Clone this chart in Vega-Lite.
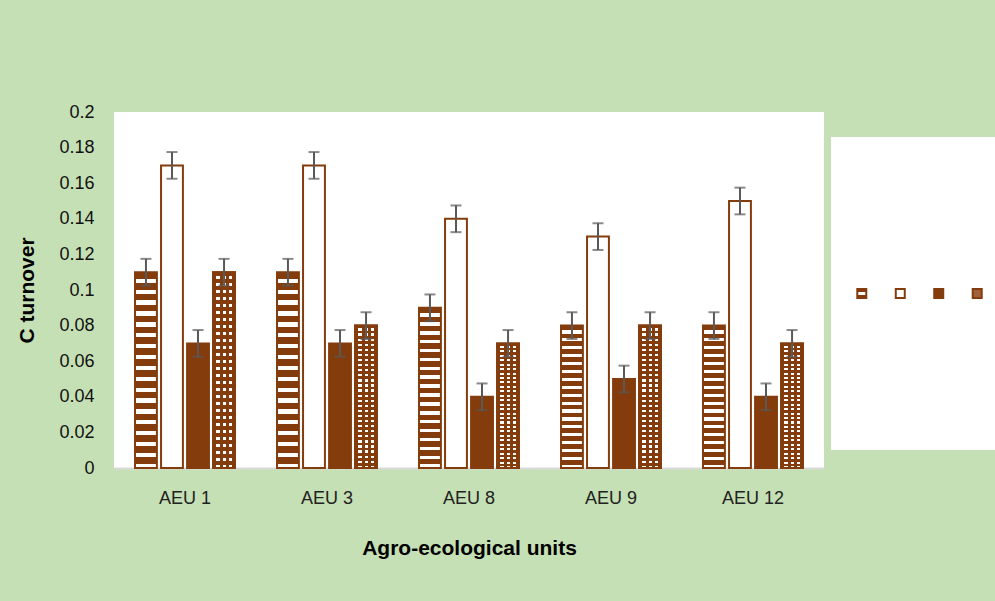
{
  "$schema": "https://vega.github.io/schema/vega-lite/v6.json",
  "background": "#C5E0B4",
  "padding": {"top": 103, "left": 16, "right": 0, "bottom": 50},
  "spacing": 7,
  "config": {
    "font": "Liberation Sans",
    "view": {"fill": "white", "stroke": null},
    "axisX": {"domainColor": "#d9d9d9", "domainWidth": 2, "ticks": false, "grid": false, "labelFontSize": 18, "labelColor": "#222222", "labelAngle": 0, "labelPadding": 21, "titleFontSize": 21, "titleFontWeight": "bold", "titleColor": "#000000", "titlePadding": 30},
    "axisY": {"domain": false, "ticks": false, "grid": false, "labelOverlap": false, "labelFontSize": 18, "labelColor": "#111111", "labelPadding": 20, "titleFontSize": 21, "titleFontWeight": "bold", "titleColor": "#000000", "titlePadding": 21}
  },
  "hconcat": [
    {
      "width": 710,
      "height": 356,
      "data": {"values": [
        {"aeu": "AEU 1", "series": "S1", "value": 0.11, "lo": 0.1025, "hi": 0.1175},
        {"aeu": "AEU 1", "series": "S2", "value": 0.17, "lo": 0.1625, "hi": 0.1775},
        {"aeu": "AEU 1", "series": "S3", "value": 0.07, "lo": 0.0625, "hi": 0.0775},
        {"aeu": "AEU 1", "series": "S4", "value": 0.11, "lo": 0.1025, "hi": 0.1175},
        {"aeu": "AEU 3", "series": "S1", "value": 0.11, "lo": 0.1025, "hi": 0.1175},
        {"aeu": "AEU 3", "series": "S2", "value": 0.17, "lo": 0.1625, "hi": 0.1775},
        {"aeu": "AEU 3", "series": "S3", "value": 0.07, "lo": 0.0625, "hi": 0.0775},
        {"aeu": "AEU 3", "series": "S4", "value": 0.08, "lo": 0.0725, "hi": 0.0875},
        {"aeu": "AEU 8", "series": "S1", "value": 0.09, "lo": 0.0825, "hi": 0.0975},
        {"aeu": "AEU 8", "series": "S2", "value": 0.14, "lo": 0.1325, "hi": 0.1475},
        {"aeu": "AEU 8", "series": "S3", "value": 0.04, "lo": 0.0325, "hi": 0.0475},
        {"aeu": "AEU 8", "series": "S4", "value": 0.07, "lo": 0.0625, "hi": 0.0775},
        {"aeu": "AEU 9", "series": "S1", "value": 0.08, "lo": 0.0725, "hi": 0.0875},
        {"aeu": "AEU 9", "series": "S2", "value": 0.13, "lo": 0.1225, "hi": 0.1375},
        {"aeu": "AEU 9", "series": "S3", "value": 0.05, "lo": 0.0425, "hi": 0.0575},
        {"aeu": "AEU 9", "series": "S4", "value": 0.08, "lo": 0.0725, "hi": 0.0875},
        {"aeu": "AEU 12", "series": "S1", "value": 0.08, "lo": 0.0725, "hi": 0.0875},
        {"aeu": "AEU 12", "series": "S2", "value": 0.15, "lo": 0.1425, "hi": 0.1575},
        {"aeu": "AEU 12", "series": "S3", "value": 0.04, "lo": 0.0325, "hi": 0.0475},
        {"aeu": "AEU 12", "series": "S4", "value": 0.07, "lo": 0.0625, "hi": 0.0775}
      ]},
      "encoding": {
        "x": {"field": "aeu", "type": "nominal", "sort": ["AEU 1", "AEU 3", "AEU 8", "AEU 9", "AEU 12"], "scale": {"paddingInner": 0.296, "paddingOuter": 0.148}, "title": "Agro-ecological units"},
        "xOffset": {"field": "series", "type": "nominal", "scale": {"domain": ["S1", "S2", "S3", "S4"], "paddingInner": 0.16, "paddingOuter": 0}}
      },
      "layer": [
        {
          "mark": {"type": "bar", "stroke": "#843C0C", "strokeWidth": 2},
          "encoding": {
            "y": {"field": "value", "type": "quantitative", "scale": {"domain": [0, 0.2], "nice": false}, "axis": {"values": [0, 0.02, 0.04, 0.06, 0.08, 0.1, 0.12, 0.14, 0.16, 0.18, 0.2], "tickCount": 11, "labelOverlap": false, "format": ".2~f"}, "title": "C turnover"},
            "fill": {
              "condition": [
                {"test": "datum.series === 'S1'", "value": {"gradient": "linear", "x1": 0, "y1": 0, "x2": 0, "y2": 1, "stops": [
                  {"offset": 0, "color": "#843C0C"}, {"offset": 0.0333, "color": "#843C0C"}, {"offset": 0.0333, "color": "#ffffff"}, {"offset": 0.0556, "color": "#ffffff"},
                  {"offset": 0.0556, "color": "#843C0C"}, {"offset": 0.0889, "color": "#843C0C"}, {"offset": 0.0889, "color": "#ffffff"}, {"offset": 0.1111, "color": "#ffffff"},
                  {"offset": 0.1111, "color": "#843C0C"}, {"offset": 0.1444, "color": "#843C0C"}, {"offset": 0.1444, "color": "#ffffff"}, {"offset": 0.1667, "color": "#ffffff"},
                  {"offset": 0.1667, "color": "#843C0C"}, {"offset": 0.2, "color": "#843C0C"}, {"offset": 0.2, "color": "#ffffff"}, {"offset": 0.2222, "color": "#ffffff"},
                  {"offset": 0.2222, "color": "#843C0C"}, {"offset": 0.2556, "color": "#843C0C"}, {"offset": 0.2556, "color": "#ffffff"}, {"offset": 0.2778, "color": "#ffffff"},
                  {"offset": 0.2778, "color": "#843C0C"}, {"offset": 0.3111, "color": "#843C0C"}, {"offset": 0.3111, "color": "#ffffff"}, {"offset": 0.3333, "color": "#ffffff"},
                  {"offset": 0.3333, "color": "#843C0C"}, {"offset": 0.3667, "color": "#843C0C"}, {"offset": 0.3667, "color": "#ffffff"}, {"offset": 0.3889, "color": "#ffffff"},
                  {"offset": 0.3889, "color": "#843C0C"}, {"offset": 0.4222, "color": "#843C0C"}, {"offset": 0.4222, "color": "#ffffff"}, {"offset": 0.4444, "color": "#ffffff"},
                  {"offset": 0.4444, "color": "#843C0C"}, {"offset": 0.4778, "color": "#843C0C"}, {"offset": 0.4778, "color": "#ffffff"}, {"offset": 0.5, "color": "#ffffff"},
                  {"offset": 0.5, "color": "#843C0C"}, {"offset": 0.5333, "color": "#843C0C"}, {"offset": 0.5333, "color": "#ffffff"}, {"offset": 0.5556, "color": "#ffffff"},
                  {"offset": 0.5556, "color": "#843C0C"}, {"offset": 0.5889, "color": "#843C0C"}, {"offset": 0.5889, "color": "#ffffff"}, {"offset": 0.6111, "color": "#ffffff"},
                  {"offset": 0.6111, "color": "#843C0C"}, {"offset": 0.6444, "color": "#843C0C"}, {"offset": 0.6444, "color": "#ffffff"}, {"offset": 0.6667, "color": "#ffffff"},
                  {"offset": 0.6667, "color": "#843C0C"}, {"offset": 0.7, "color": "#843C0C"}, {"offset": 0.7, "color": "#ffffff"}, {"offset": 0.7222, "color": "#ffffff"},
                  {"offset": 0.7222, "color": "#843C0C"}, {"offset": 0.7556, "color": "#843C0C"}, {"offset": 0.7556, "color": "#ffffff"}, {"offset": 0.7778, "color": "#ffffff"},
                  {"offset": 0.7778, "color": "#843C0C"}, {"offset": 0.8111, "color": "#843C0C"}, {"offset": 0.8111, "color": "#ffffff"}, {"offset": 0.8333, "color": "#ffffff"},
                  {"offset": 0.8333, "color": "#843C0C"}, {"offset": 0.8667, "color": "#843C0C"}, {"offset": 0.8667, "color": "#ffffff"}, {"offset": 0.8889, "color": "#ffffff"},
                  {"offset": 0.8889, "color": "#843C0C"}, {"offset": 0.9222, "color": "#843C0C"}, {"offset": 0.9222, "color": "#ffffff"}, {"offset": 0.9444, "color": "#ffffff"},
                  {"offset": 0.9444, "color": "#843C0C"}, {"offset": 0.9778, "color": "#843C0C"}, {"offset": 0.9778, "color": "#ffffff"}, {"offset": 1, "color": "#ffffff"}
                ]}},
                {"test": "datum.series === 'S3'", "value": "#843C0C"},
                {"test": "datum.series === 'S4'", "value": {"gradient": "linear", "x1": 0, "y1": 0, "x2": 0, "y2": 1, "stops": [
                  {"offset": 0, "color": "#843C0C"}, {"offset": 0.0196, "color": "#843C0C"}, {"offset": 0.0196, "color": "#ffffff"}, {"offset": 0.0357, "color": "#ffffff"},
                  {"offset": 0.0357, "color": "#843C0C"}, {"offset": 0.0553, "color": "#843C0C"}, {"offset": 0.0553, "color": "#ffffff"}, {"offset": 0.0714, "color": "#ffffff"},
                  {"offset": 0.0714, "color": "#843C0C"}, {"offset": 0.091, "color": "#843C0C"}, {"offset": 0.091, "color": "#ffffff"}, {"offset": 0.1071, "color": "#ffffff"},
                  {"offset": 0.1071, "color": "#843C0C"}, {"offset": 0.1267, "color": "#843C0C"}, {"offset": 0.1267, "color": "#ffffff"}, {"offset": 0.1429, "color": "#ffffff"},
                  {"offset": 0.1429, "color": "#843C0C"}, {"offset": 0.1625, "color": "#843C0C"}, {"offset": 0.1625, "color": "#ffffff"}, {"offset": 0.1786, "color": "#ffffff"},
                  {"offset": 0.1786, "color": "#843C0C"}, {"offset": 0.1982, "color": "#843C0C"}, {"offset": 0.1982, "color": "#ffffff"}, {"offset": 0.2143, "color": "#ffffff"},
                  {"offset": 0.2143, "color": "#843C0C"}, {"offset": 0.2339, "color": "#843C0C"}, {"offset": 0.2339, "color": "#ffffff"}, {"offset": 0.25, "color": "#ffffff"},
                  {"offset": 0.25, "color": "#843C0C"}, {"offset": 0.2696, "color": "#843C0C"}, {"offset": 0.2696, "color": "#ffffff"}, {"offset": 0.2857, "color": "#ffffff"},
                  {"offset": 0.2857, "color": "#843C0C"}, {"offset": 0.3053, "color": "#843C0C"}, {"offset": 0.3053, "color": "#ffffff"}, {"offset": 0.3214, "color": "#ffffff"},
                  {"offset": 0.3214, "color": "#843C0C"}, {"offset": 0.341, "color": "#843C0C"}, {"offset": 0.341, "color": "#ffffff"}, {"offset": 0.3571, "color": "#ffffff"},
                  {"offset": 0.3571, "color": "#843C0C"}, {"offset": 0.3767, "color": "#843C0C"}, {"offset": 0.3767, "color": "#ffffff"}, {"offset": 0.3929, "color": "#ffffff"},
                  {"offset": 0.3929, "color": "#843C0C"}, {"offset": 0.4125, "color": "#843C0C"}, {"offset": 0.4125, "color": "#ffffff"}, {"offset": 0.4286, "color": "#ffffff"},
                  {"offset": 0.4286, "color": "#843C0C"}, {"offset": 0.4482, "color": "#843C0C"}, {"offset": 0.4482, "color": "#ffffff"}, {"offset": 0.4643, "color": "#ffffff"},
                  {"offset": 0.4643, "color": "#843C0C"}, {"offset": 0.4839, "color": "#843C0C"}, {"offset": 0.4839, "color": "#ffffff"}, {"offset": 0.5, "color": "#ffffff"},
                  {"offset": 0.5, "color": "#843C0C"}, {"offset": 0.5196, "color": "#843C0C"}, {"offset": 0.5196, "color": "#ffffff"}, {"offset": 0.5357, "color": "#ffffff"},
                  {"offset": 0.5357, "color": "#843C0C"}, {"offset": 0.5553, "color": "#843C0C"}, {"offset": 0.5553, "color": "#ffffff"}, {"offset": 0.5714, "color": "#ffffff"},
                  {"offset": 0.5714, "color": "#843C0C"}, {"offset": 0.591, "color": "#843C0C"}, {"offset": 0.591, "color": "#ffffff"}, {"offset": 0.6071, "color": "#ffffff"},
                  {"offset": 0.6071, "color": "#843C0C"}, {"offset": 0.6267, "color": "#843C0C"}, {"offset": 0.6267, "color": "#ffffff"}, {"offset": 0.6429, "color": "#ffffff"},
                  {"offset": 0.6429, "color": "#843C0C"}, {"offset": 0.6625, "color": "#843C0C"}, {"offset": 0.6625, "color": "#ffffff"}, {"offset": 0.6786, "color": "#ffffff"},
                  {"offset": 0.6786, "color": "#843C0C"}, {"offset": 0.6982, "color": "#843C0C"}, {"offset": 0.6982, "color": "#ffffff"}, {"offset": 0.7143, "color": "#ffffff"},
                  {"offset": 0.7143, "color": "#843C0C"}, {"offset": 0.7339, "color": "#843C0C"}, {"offset": 0.7339, "color": "#ffffff"}, {"offset": 0.75, "color": "#ffffff"},
                  {"offset": 0.75, "color": "#843C0C"}, {"offset": 0.7696, "color": "#843C0C"}, {"offset": 0.7696, "color": "#ffffff"}, {"offset": 0.7857, "color": "#ffffff"},
                  {"offset": 0.7857, "color": "#843C0C"}, {"offset": 0.8053, "color": "#843C0C"}, {"offset": 0.8053, "color": "#ffffff"}, {"offset": 0.8214, "color": "#ffffff"},
                  {"offset": 0.8214, "color": "#843C0C"}, {"offset": 0.841, "color": "#843C0C"}, {"offset": 0.841, "color": "#ffffff"}, {"offset": 0.8571, "color": "#ffffff"},
                  {"offset": 0.8571, "color": "#843C0C"}, {"offset": 0.8767, "color": "#843C0C"}, {"offset": 0.8767, "color": "#ffffff"}, {"offset": 0.8929, "color": "#ffffff"},
                  {"offset": 0.8929, "color": "#843C0C"}, {"offset": 0.9125, "color": "#843C0C"}, {"offset": 0.9125, "color": "#ffffff"}, {"offset": 0.9286, "color": "#ffffff"},
                  {"offset": 0.9286, "color": "#843C0C"}, {"offset": 0.9482, "color": "#843C0C"}, {"offset": 0.9482, "color": "#ffffff"}, {"offset": 0.9643, "color": "#ffffff"},
                  {"offset": 0.9643, "color": "#843C0C"}, {"offset": 0.9839, "color": "#843C0C"}, {"offset": 0.9839, "color": "#ffffff"}, {"offset": 1, "color": "#ffffff"}
                ]}}
              ],
              "value": "#ffffff"
            }
          }
        },
        {
          "transform": [{"filter": "datum.series === 'S4'"}],
          "mark": {"type": "bar", "stroke": "#843C0C", "strokeWidth": 2, "fill": {"gradient": "linear", "x1": 0, "y1": 0, "x2": 1, "y2": 0, "stops": [
            {"offset": 0, "color": "#843C0C"}, {"offset": 0.14, "color": "#843C0C"}, {"offset": 0.14, "color": "rgba(255,255,255,0)"}, {"offset": 0.3, "color": "rgba(255,255,255,0)"},
            {"offset": 0.3, "color": "#843C0C"}, {"offset": 0.44, "color": "#843C0C"}, {"offset": 0.44, "color": "rgba(255,255,255,0)"}, {"offset": 0.6, "color": "rgba(255,255,255,0)"},
            {"offset": 0.6, "color": "#843C0C"}, {"offset": 0.74, "color": "#843C0C"}, {"offset": 0.74, "color": "rgba(255,255,255,0)"}, {"offset": 0.88, "color": "rgba(255,255,255,0)"},
            {"offset": 0.88, "color": "#843C0C"}, {"offset": 1, "color": "#843C0C"}
          ]}},
          "encoding": {
            "y": {"field": "value", "type": "quantitative", "axis": {"values": [0, 0.02, 0.04, 0.06, 0.08, 0.1, 0.12, 0.14, 0.16, 0.18, 0.2], "tickCount": 11, "labelOverlap": false, "format": ".2~f"}, "title": "C turnover"}
          }
        },
        {
          "mark": {"type": "rule", "color": "#595959", "strokeWidth": 2},
          "encoding": {
            "y": {"field": "lo", "type": "quantitative", "axis": {"values": [0, 0.02, 0.04, 0.06, 0.08, 0.1, 0.12, 0.14, 0.16, 0.18, 0.2], "tickCount": 11, "labelOverlap": false, "format": ".2~f"}, "title": "C turnover"},
            "y2": {"field": "hi"}
          }
        },
        {
          "mark": {"type": "tick", "color": "#595959", "thickness": 2, "size": 11, "orient": "horizontal"},
          "encoding": {
            "y": {"field": "lo", "type": "quantitative", "axis": {"values": [0, 0.02, 0.04, 0.06, 0.08, 0.1, 0.12, 0.14, 0.16, 0.18, 0.2], "tickCount": 11, "labelOverlap": false, "format": ".2~f"}, "title": "C turnover"}
          }
        },
        {
          "mark": {"type": "tick", "color": "#595959", "thickness": 2, "size": 11, "orient": "horizontal"},
          "encoding": {
            "y": {"field": "hi", "type": "quantitative", "axis": {"values": [0, 0.02, 0.04, 0.06, 0.08, 0.1, 0.12, 0.14, 0.16, 0.18, 0.2], "tickCount": 11, "labelOverlap": false, "format": ".2~f"}, "title": "C turnover"}
          }
        }
      ]
    },
    {
      "spacing": 24,
      "vconcat": [
        {
          "width": 177,
          "height": 1,
          "view": {"fill": null, "stroke": null},
          "data": {"values": []},
          "mark": {"type": "point", "opacity": 0}
        },
        {
          "width": 177,
          "height": 313,
          "data": {"values": [{"series": "S1"}, {"series": "S2"}, {"series": "S3"}, {"series": "S4"}]},
          "mark": {"type": "square", "size": 81, "stroke": "#843C0C", "strokeWidth": 2, "opacity": 1},
          "encoding": {
            "x": {"field": "series", "type": "nominal", "scale": {"type": "point", "padding": 0.8}, "axis": null},
            "fill": {
              "condition": [
                {"test": "datum.series === 'S1'", "value": {"gradient": "linear", "x1": 0, "y1": 0, "x2": 0, "y2": 1, "stops": [
                  {"offset": 0, "color": "#843C0C"}, {"offset": 0.3, "color": "#843C0C"}, {"offset": 0.3, "color": "#ffffff"}, {"offset": 0.7, "color": "#ffffff"}, {"offset": 0.7, "color": "#843C0C"}, {"offset": 1, "color": "#843C0C"}
                ]}},
                {"test": "datum.series === 'S3'", "value": "#843C0C"},
                {"test": "datum.series === 'S4'", "value": "#a0603c"}
              ],
              "value": "#ffffff"
            }
          }
        }
      ]
    }
  ]
}
